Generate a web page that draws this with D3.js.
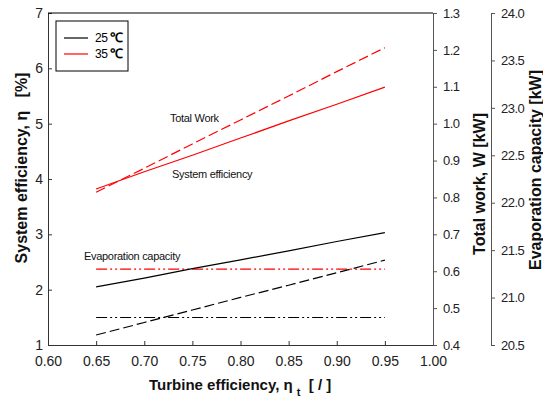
<!DOCTYPE html>
<html>
<head>
	<meta charset="UTF-8">
	<title>Turbine efficiency</title>
	<script src="https://d3js.org/d3.v7.min.js"></script>
	<style>
		body { margin: 0; background: #fff; }
		svg { font-family: Arial, "Liberation Sans", sans-serif; }
		.tick text { fill: #222; }
		.axis-title { font-weight: bold; fill: #111; white-space: pre; }
	</style>
</head>
<body>
	<script>
		// values
		var turbineEff = [0.65, 0.70, 0.75, 0.80, 0.85, 0.90, 0.95];
		var sysEff25 = [2.05, 2.21, 2.38, 2.54, 2.70, 2.87, 3.03];
		var sysEff35 = [3.82, 4.13, 4.43, 4.74, 5.05, 5.35, 5.66];
		var work25 = [0.427, 0.461, 0.495, 0.529, 0.562, 0.596, 0.630];
		var work35 = [0.814, 0.879, 0.945, 1.010, 1.075, 1.141, 1.206];
		var evap25 = [20.79, 20.79, 20.79, 20.79, 20.79, 20.79, 20.79];
		var evap35 = [21.30, 21.30, 21.30, 21.30, 21.30, 21.30, 21.30];

		var xTicks = [0.60, 0.65, 0.70, 0.75, 0.80, 0.85, 0.90, 0.95, 1.00];
		var effTicks = [1, 2, 3, 4, 5, 6, 7];
		var workTicks = [0.4, 0.5, 0.6, 0.7, 0.8, 0.9, 1.0, 1.1, 1.2, 1.3];
		var evapTicks = [20.5, 21.0, 21.5, 22.0, 22.5, 23.0, 23.5, 24.0];

		var legendNames = ["25", "35"];
		var legendColors = ["#000", "#ff0000"];

		var W = 543, H = 405;
		var pLeft = 48, pRight = 433, pTop = 13, pBottom = 345;

		var svg = d3.select("body").append("svg")
			.attr("width", W)
			.attr("height", H);

		var x = d3.scaleLinear().domain([0.6, 1.0]).range([pLeft, pRight]);
		var yEff = d3.scaleLinear().domain([1, 7]).range([pBottom, pTop]);
		var yWork = d3.scaleLinear().domain([0.4, 1.3]).range([pBottom, pTop]);
		var yEvap = d3.scaleLinear().domain([20.5, 24.0]).range([pBottom, pTop]);

		// axes
		svg.append("g")
			.attr("transform", "translate(0," + pBottom + ")")
			.call(d3.axisBottom(x).tickValues(xTicks).tickFormat(d3.format(".2f"))
				.tickSizeInner(-4).tickSizeOuter(0).tickPadding(11))
			.call(function(g) {
				g.selectAll("text").style("font-size", "14px");
				g.select(".domain").attr("stroke", "#333");
				g.selectAll("line").attr("stroke", "#333");
			});

		svg.append("g")
			.attr("transform", "translate(" + pLeft + ",0)")
			.call(d3.axisLeft(yEff).tickValues(effTicks).tickFormat(d3.format("d"))
				.tickSizeInner(-4).tickSizeOuter(0).tickPadding(5))
			.call(function(g) {
				g.selectAll("text").style("font-size", "14px");
				g.select(".domain").attr("stroke", "#333");
				g.selectAll("line").attr("stroke", "#333");
			});

		svg.append("g")
			.attr("transform", "translate(" + pRight + ",0)")
			.call(d3.axisRight(yWork).tickValues(workTicks).tickFormat(d3.format(".1f"))
				.tickSizeInner(4).tickSizeOuter(0).tickPadding(6))
			.call(function(g) {
				g.selectAll("text").style("font-size", "13px").style("letter-spacing", "-0.5px");
				g.select(".domain").attr("stroke", "#555");
				g.selectAll("line").attr("stroke", "#555");
			});

		svg.append("g")
			.attr("transform", "translate(491,0)")
			.call(d3.axisRight(yEvap).tickValues(evapTicks).tickFormat(d3.format(".1f"))
				.tickSizeInner(4).tickSizeOuter(0).tickPadding(6))
			.call(function(g) {
				g.selectAll("text").style("font-size", "13px").style("letter-spacing", "-0.5px");
				g.select(".domain").attr("stroke", "#555");
				g.selectAll("line").attr("stroke", "#555");
			});

		// top border of the plot
		svg.append("line")
			.attr("x1", pLeft).attr("x2", pRight)
			.attr("y1", pTop).attr("y2", pTop)
			.attr("stroke", "#000");

		// series
		function drawLine(values, scale, color, dash) {
			var line = d3.line()
				.x(function(d, i) { return x(turbineEff[i]); })
				.y(function(d) { return scale(d); });
			svg.append("path")
				.datum(values)
				.attr("fill", "none")
				.attr("stroke", color)
				.attr("stroke-width", 1.2)
				.attr("stroke-dasharray", dash)
				.attr("d", line);
		}
		drawLine(evap25, yEvap, "#000", "11,3,2,3,2,3");
		drawLine(evap35, yEvap, "#ff0000", "11,3,2,3,2,3");
		drawLine(work25, yWork, "#000", "10,4");
		drawLine(work35, yWork, "#ff0000", "10,4");
		drawLine(sysEff25, yEff, "#000", null);
		drawLine(sysEff35, yEff, "#ff0000", null);

		// annotations
		var notes = [
			{t: "Total Work", x: 170, y: 122},
			{t: "System efficiency", x: 172, y: 178},
			{t: "Evaporation capacity", x: 84, y: 260}
		];
		svg.selectAll(".note")
			.data(notes)
			.enter().append("text")
			.attr("class", "note")
			.attr("x", function(d) { return d.x; })
			.attr("y", function(d) { return d.y; })
			.style("font-size", "11px")
			.style("letter-spacing", "-0.3px")
			.attr("fill", "#111")
			.text(function(d) { return d.t; });

		// legend
		var legend = svg.append("g");
		legend.append("rect")
			.attr("x", 56).attr("y", 21).attr("width", 72).attr("height", 50)
			.attr("fill", "#fff").attr("stroke", "#000");
		legend.selectAll(".lg")
			.data(legendNames)
			.enter().append("line")
			.attr("x1", 64).attr("x2", 88)
			.attr("y1", function(d, i) { return 38 + i * 16; })
			.attr("y2", function(d, i) { return 38 + i * 16; })
			.attr("stroke", function(d, i) { return legendColors[i]; })
			.attr("stroke-width", 1.2);
		var lt = legend.selectAll(".lt")
			.data(legendNames)
			.enter().append("text")
			.attr("x", 95)
			.attr("y", function(d, i) { return 42 + i * 16; })
			.style("font-size", "12px")
			.style("letter-spacing", "-0.5px");
		lt.append("tspan").text(function(d) { return d + " "; });
		lt.append("tspan").style("font-weight", "bold").style("font-size", "13px").text("\u2103");

		// axis titles
		svg.append("text")
			.attr("class", "axis-title")
			.attr("transform", "translate(27,168) rotate(-90)")
			.attr("text-anchor", "middle")
			.style("font-size", "16px")
			.text("System efficiency, \u03b7   [%]");

		svg.append("text")
			.attr("class", "axis-title")
			.attr("transform", "translate(485,184) rotate(-90)")
			.attr("text-anchor", "middle")
			.style("font-size", "16px")
			.text("Total work, W [kW]");

		svg.append("text")
			.attr("class", "axis-title")
			.attr("transform", "translate(541,170) rotate(-90)")
			.attr("text-anchor", "middle")
			.style("font-size", "16px")
			.text("Evaporation capacity [kW]");

		var xt = svg.append("text")
			.attr("class", "axis-title")
			.attr("x", 149).attr("y", 390)
			.style("font-size", "15px");
		xt.append("tspan").text("Turbine efficiency, \u03b7 ");
		xt.append("tspan").attr("dy", 6).style("font-size", "11px").text("t");
		xt.append("tspan").attr("dy", -6).text("  [ / ]");
	</script>
</body>
</html>
